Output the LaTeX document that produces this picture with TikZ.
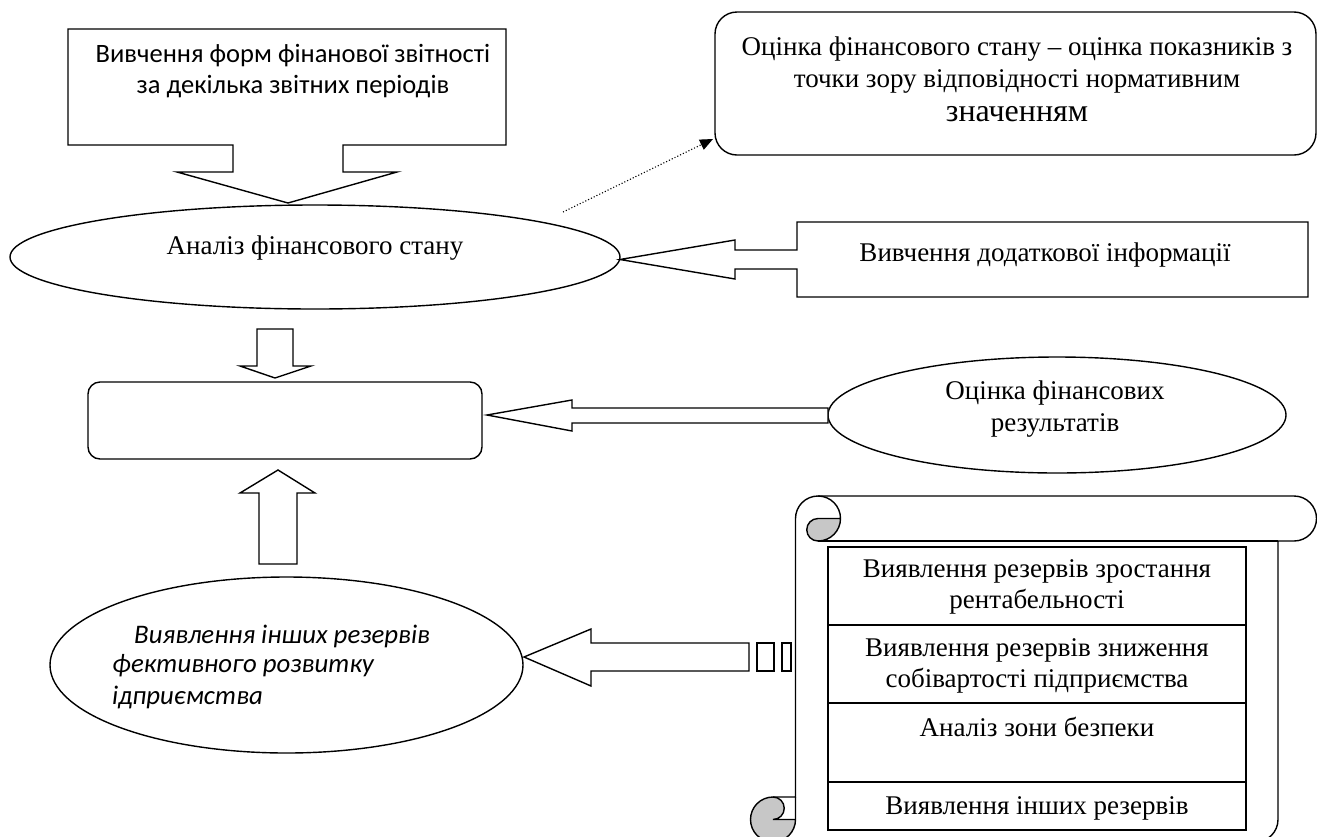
\documentclass[tikz,border=0pt]{standalone}
\usepackage{fontspec}
\setmainfont{Liberation Serif}
\newfontfamily\calibri{Carlito}
\usetikzlibrary{shapes.geometric,arrows.meta}
\begin{document}
\begin{tikzpicture}[x=1pt,y=-1pt,
  blockarrow/.style={draw=black, line width=1.4pt, fill=white, line join=miter},
  tnr/.style={font=\fontsize{27}{31.5}\selectfont, align=center, inner sep=0pt},
  cal/.style={font=\calibri\fontsize{26.5}{31}\selectfont, align=center, inner sep=0pt},
  calit/.style={font=\calibri\itshape\fontsize{26.8}{31}\selectfont, inner sep=0pt},
  oval/.style={ellipse, draw=black, line width=1.4pt, inner sep=0pt},
  roundbox/.style={rectangle, rounded corners=#1, draw=black, line width=1.4pt, inner sep=0pt},
  cell/.style={rectangle, draw=black, line width=1.2pt, inner sep=0pt, minimum width=418pt},
  scrollline/.style={draw=black, line width=1.4pt},
  curl/.style={fill=black!22},
]
\useasboundingbox (0,0) rectangle (1317,836);
\clip (0,0) rectangle (1317,836);

% top-left down-arrow callout
\draw[blockarrow] (68,29) -- (506,29) -- (506,145) -- (343,145) -- (343,172) -- (397,172) -- (288,203) -- (177,172) -- (233,172) -- (233,145) -- (68,145) -- cycle;
\node[cal] (t1) at (293,71) {Вивчення форм фінанової звітності\\за декілька звітних періодів};

% top-right rounded box
\node[roundbox=22pt, minimum width=601pt, minimum height=143pt] (r1) at (1015.5,83.5) {};
\node[tnr] (r1t) at (1017,65) {Оцінка фінансового стану – оцінка показників з\\точки зору відповідності нормативним};
\node[tnr, font=\fontsize{32}{33}\selectfont] (r1t2) at (1017,114) {значенням};

% ellipse 1
\node[oval, minimum width=610pt, minimum height=104pt] (e1) at (315,257) {};
\node[tnr] (e1t) at (315,248) {Аналіз фінансового стану};

% dotted arrow
\coordinate (d0) at (563,212);
\coordinate (d1) at (713,139);
\draw[dotted, line width=1.1pt, -{Triangle[length=13pt,width=11pt]}] (d0) -- (d1);

% right left-arrow callout
\draw[blockarrow] (797,222) -- (1308,222) -- (1308,297) -- (797,297) -- (797,269) -- (735,269) -- (735,279) -- (620,259.5) -- (735,240) -- (735,250) -- (797,250) -- cycle;
\node[tnr] (b2t) at (1045,255) {Вивчення додаткової інформації};

% small down arrow
\draw[blockarrow] (257,329) -- (293,329) -- (293,366) -- (311,366) -- (275,378) -- (240,366) -- (257,366) -- cycle;

% middle box
\node[roundbox=12pt, minimum width=394pt, minimum height=77pt] (mid) at (285,420.5) {};

% ellipse 2
\node[oval, minimum width=458pt, minimum height=116pt] (e2) at (1057,415) {};
\node[tnr] (e2t) at (1055,409) {Оцінка фінансових\\результатів};

% left arrow from ellipse 2
\draw[blockarrow] (828,408) -- (572,408) -- (572,400) -- (487,415) -- (572,431) -- (572,423) -- (828,423) -- cycle;

% up arrow
\draw[blockarrow] (259,564) -- (259,493) -- (240,493) -- (278,470) -- (315,493) -- (297,493) -- (297,564) -- cycle;

% ellipse 3
\node[oval, minimum width=473pt, minimum height=176pt] (e3) at (286.5,665) {};
\node[calit, anchor=west] (e3a) at (134,636) {Виявлення інших резервів};
\node[calit, anchor=west] (e3b) at (112,666) {фективного розвитку};
\node[calit, anchor=west] (e3c) at (112,697) {ідприємства};

% striped arrow
\draw[blockarrow] (749,643) -- (591,643) -- (591,629) -- (524,657) -- (591,686) -- (591,671) -- (749,671) -- cycle;
\draw[blockarrow] (757,643) rectangle (774,671);
\draw[blockarrow] (782,643) rectangle (791,671);

% vertical scroll
\fill[white] (795.5,518.5) rectangle (1278,842);
\fill[white] (818,496) rectangle (1294,541);
\fill[white] (1294,518.5) circle[radius=22.5];
\fill[white] (818,518.5) circle[radius=22.5];
\fill[white] (773,819.5) circle[radius=22.5];
\fill[curl] (840.5,518.5) arc[start angle=0, delta angle=90, radius=22.5] arc[start angle=90, delta angle=180, radius=11.25] -- cycle;
\fill[curl] (795.5,819.5) arc[start angle=0, delta angle=270, radius=22.5] arc[start angle=270, delta angle=180, radius=11.25] -- cycle;
\draw[scrollline] (795.5,797) -- (795.5,518.5) arc[start angle=180, delta angle=90, radius=22.5] -- (1294,496) arc[start angle=270, delta angle=180, radius=22.5] -- (1278,541) -- (1278,819.5) arc[start angle=0, delta angle=90, radius=22.5] -- (773,842) arc[start angle=90, delta angle=180, radius=22.5] -- cycle;
\draw[scrollline] (818,496) arc[start angle=270, delta angle=180, radius=22.5] arc[start angle=90, delta angle=180, radius=11.25] -- (840.5,518.5);
\draw[scrollline] (1278,541) -- (818,541);
\draw[scrollline] (773,797) arc[start angle=270, delta angle=180, radius=11.25] -- (795.5,819.5);
\draw[scrollline] (773,842) arc[start angle=90, delta angle=-90, radius=22.5] -- (795.5,797);

% table inside the scroll
\node[cell, minimum height=78pt] (c1) at (1037,586) {};
\node[cell, minimum height=78pt] (c2) at (1037,664) {};
\node[cell, minimum height=79pt] (c3) at (1037,742.5) {};
\node[cell, minimum height=48pt] (c4) at (1037,806) {};
\begin{scope}
\clip (c1.north west) rectangle ([yshift=-5pt]c1.south east);
\node[tnr] (c1t) at (1037,587) {Виявлення резервів зростання\\рентабельності};
\end{scope}
\begin{scope}
\clip (c2.north west) rectangle ([yshift=-2pt]c2.south east);
\node[tnr] (c2t) at (1037,666) {Виявлення резервів зниження\\собівартості підприємства};
\end{scope}
\node[tnr] (c3t) at (1037,727) {Аналіз зони безпеки};
\begin{scope}
\clip (c4.north west) rectangle ([yshift=-3pt]c4.south east);
\node[tnr] (c4t) at (1037,808) {Виявлення інших резервів};
\end{scope}
\end{tikzpicture}
\end{document}
